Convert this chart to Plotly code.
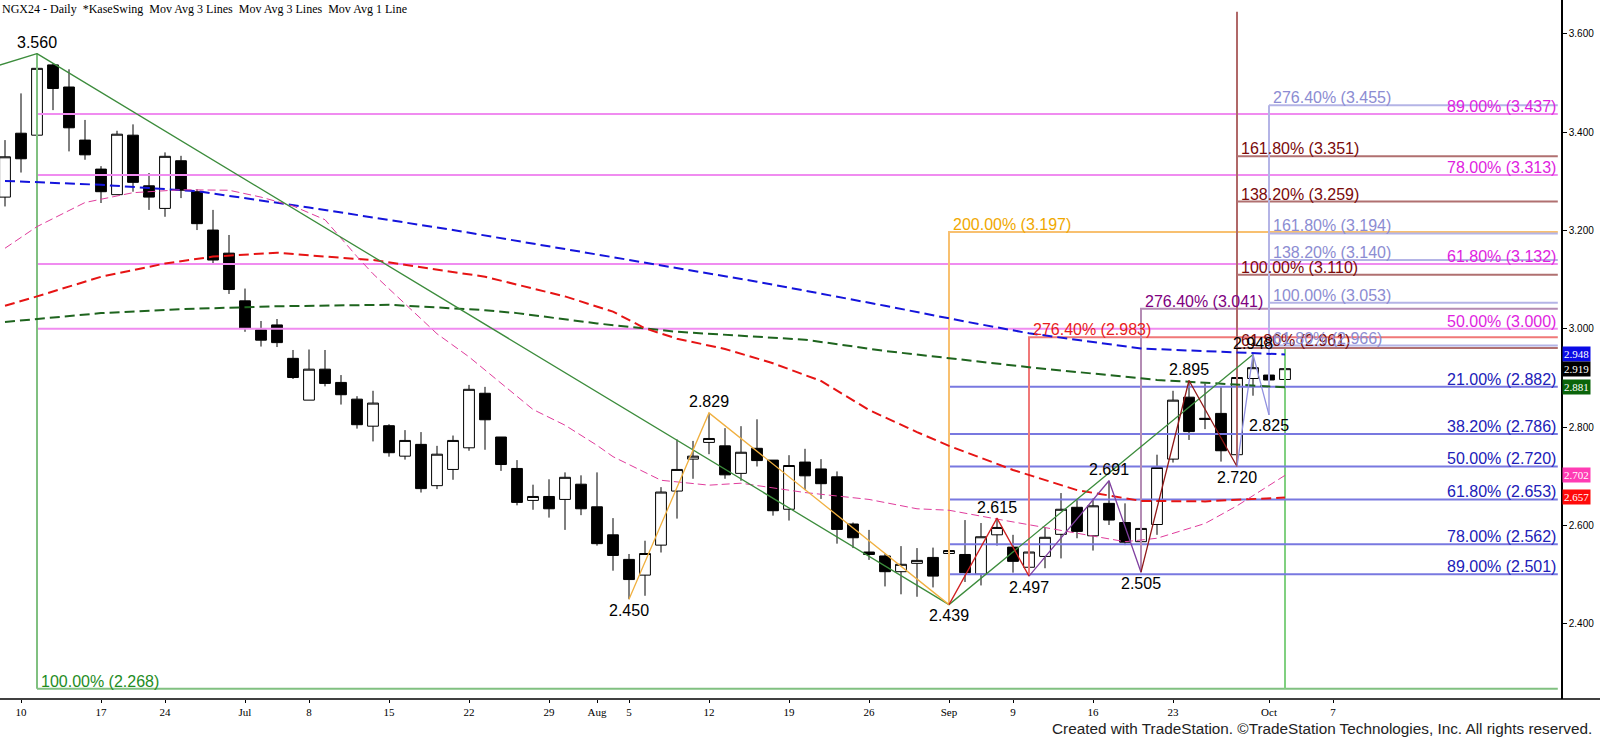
import pandas as pd
import plotly.graph_objects as go

# NGX24 daily bars, 7 Jun 2024 - 2 Oct 2024 (holidays left out like the chart does)
holidays = ['2024-06-19', '2024-07-04', '2024-09-02']
days = [d for d in pd.bdate_range('2024-06-07', '2024-10-08') if d.strftime('%Y-%m-%d') not in holidays]
n_bars = 81
pos = {d.strftime('%Y-%m-%d'): i for i, d in enumerate(days)}

opens = [3.268, 3.398, 3.394, 3.537, 3.492, 3.384, 3.325, 3.273, 3.394, 3.291,
         3.245, 3.342, 3.279, 3.201, 3.154, 3.057, 2.998, 3.008, 2.940, 2.855,
         2.918, 2.891, 2.857, 2.802, 2.803, 2.741, 2.765, 2.681, 2.714, 2.758,
         2.869, 2.780, 2.716, 2.651, 2.659, 2.653, 2.684, 2.638, 2.581, 2.531,
         2.499, 2.560, 2.670, 2.735, 2.769, 2.762, 2.706, 2.757, 2.733, 2.633,
         2.729, 2.715, 2.699, 2.603, 2.546, 2.538, 2.506, 2.523, 2.535, 2.543,
         2.541, 2.501, 2.581, 2.556, 2.515, 2.537, 2.582, 2.637, 2.579, 2.645,
         2.606, 2.567, 2.602, 2.735, 2.861, 2.818, 2.828, 2.744, 2.899, 2.906,
         2.897]
highs = [3.384, 3.479, 3.560, 3.540, 3.528, 3.425, 3.331, 3.403, 3.416, 3.317,
         3.359, 3.352, 3.284, 3.242, 3.191, 3.082, 3.016, 3.020, 2.957, 2.958,
         2.957, 2.906, 2.863, 2.874, 2.806, 2.794, 2.790, 2.762, 2.783, 2.886,
         2.882, 2.780, 2.733, 2.683, 2.694, 2.708, 2.702, 2.708, 2.615, 2.542,
         2.569, 2.678, 2.775, 2.772, 2.829, 2.798, 2.802, 2.816, 2.733, 2.743,
         2.756, 2.735, 2.710, 2.606, 2.591, 2.543, 2.558, 2.554, 2.555, 2.572,
         2.611, 2.605, 2.615, 2.581, 2.546, 2.596, 2.666, 2.652, 2.655, 2.691,
         2.645, 2.601, 2.744, 2.874, 2.895, 2.889, 2.883, 2.933, 2.948, 2.940,
         2.940]
lows = [3.249, 3.318, 3.388, 3.445, 3.361, 3.344, 3.256, 3.273, 3.279, 3.242,
        3.228, 3.266, 3.201, 3.133, 3.071, 2.994, 2.964, 2.963, 2.898, 2.855,
        2.883, 2.846, 2.797, 2.771, 2.740, 2.734, 2.667, 2.674, 2.693, 2.752,
        2.754, 2.711, 2.641, 2.632, 2.616, 2.591, 2.621, 2.559, 2.508, 2.450,
        2.457, 2.545, 2.614, 2.695, 2.745, 2.695, 2.691, 2.720, 2.620, 2.610,
        2.672, 2.654, 2.563, 2.554, 2.530, 2.476, 2.460, 2.455, 2.474, 2.439,
        2.485, 2.478, 2.559, 2.504, 2.497, 2.513, 2.533, 2.574, 2.549, 2.601,
        2.560, 2.505, 2.581, 2.728, 2.774, 2.796, 2.730, 2.720, 2.864, 2.825,
        2.868]
closes = [3.350, 3.346, 3.530, 3.489, 3.409, 3.354, 3.279, 3.396, 3.298, 3.268,
          3.351, 3.282, 3.214, 3.140, 3.080, 3.001, 2.977, 2.972, 2.901, 2.918,
          2.889, 2.866, 2.805, 2.849, 2.748, 2.773, 2.675, 2.745, 2.773, 2.877,
          2.815, 2.724, 2.647, 2.659, 2.634, 2.698, 2.634, 2.563, 2.539, 2.490,
          2.543, 2.668, 2.714, 2.741, 2.777, 2.703, 2.749, 2.732, 2.630, 2.722,
          2.701, 2.685, 2.592, 2.575, 2.541, 2.506, 2.521, 2.529, 2.497, 2.549,
          2.504, 2.577, 2.596, 2.527, 2.546, 2.576, 2.633, 2.588, 2.640, 2.611,
          2.566, 2.594, 2.718, 2.855, 2.791, 2.816, 2.752, 2.901, 2.921, 2.896,
          2.919]

# moving averages, read at a few bars
ma_blue_x = [0, 6, 12, 19, 28, 38, 47, 55, 60, 64, 71, 80]
ma_blue = [3.301, 3.293, 3.280, 3.247, 3.201, 3.145, 3.096, 3.047, 3.015, 2.991, 2.960, 2.948]
ma_dkgreen_x = [0, 2, 6, 11, 17, 24, 30, 32, 37, 42, 50, 55, 64, 72, 80]
ma_dkgreen = [3.014, 3.020, 3.032, 3.040, 3.046, 3.049, 3.038, 3.032, 3.011, 2.994, 2.978, 2.955, 2.922, 2.896, 2.881]
ma_red_x = [0, 2, 6, 10, 13, 17, 20, 23, 30, 35, 38, 40, 42, 45, 48, 51, 54, 57, 59, 63, 67, 71, 75, 80]
ma_red = [3.047, 3.066, 3.106, 3.133, 3.147, 3.155, 3.147, 3.140, 3.106, 3.066, 3.035, 3.001, 2.980, 2.959,
          2.930, 2.894, 2.835, 2.790, 2.762, 2.713, 2.672, 2.650, 2.649, 2.657]
ma_pink_x = [0, 2, 5, 8, 11, 14, 16, 18, 20, 22, 23, 25, 27, 29, 31, 33, 35, 37, 38, 41, 44, 46, 50,
             54, 57, 59, 62, 66, 70, 72, 75, 77, 80]
ma_pink = [3.164, 3.208, 3.257, 3.277, 3.283, 3.282, 3.268, 3.250, 3.222, 3.147, 3.112, 3.050, 2.990,
           2.943, 2.890, 2.836, 2.804, 2.763, 2.740, 2.692, 2.682, 2.686, 2.667, 2.653, 2.634, 2.631,
           2.613, 2.590, 2.567, 2.574, 2.604, 2.640, 2.702]

# swing points
swing_x = ['2024-06-11', '2024-08-05', '2024-08-12', '2024-09-03', '2024-09-06', '2024-09-10',
           '2024-09-17', '2024-09-19', '2024-09-24', '2024-09-27', '2024-09-30', '2024-10-01']
swing_y = [3.560, 2.450, 2.829, 2.439, 2.615, 2.497, 2.691, 2.505, 2.895, 2.720, 2.948, 2.825]
swing_up = [True, False, True, False, True, False, True, False, True, False, True, False]

# fib levels
mag_lv = [3.437, 3.313, 3.132, 3.000]
mag_pct = ['89.00%', '78.00%', '61.80%', '50.00%']
blue_lv = [2.882, 2.786, 2.720, 2.653, 2.562, 2.501]
blue_pct = ['21.00%', '38.20%', '50.00%', '61.80%', '78.00%', '89.00%']
maroon_lv = [2.961, 3.110, 3.259, 3.351]
maroon_pct = ['61.80%', '100.00%', '138.20%', '161.80%']
lav_lv = [2.966, 3.053, 3.140, 3.194, 3.455]
lav_pct = ['61.80%', '100.00%', '138.20%', '161.80%', '276.40%']

xticks = ['2024-06-10', '2024-06-17', '2024-06-24', '2024-07-01', '2024-07-08', '2024-07-15',
          '2024-07-22', '2024-07-29', '2024-08-01', '2024-08-05', '2024-08-12', '2024-08-19',
          '2024-08-26', '2024-09-03', '2024-09-09', '2024-09-16', '2024-09-23', '2024-10-01',
          '2024-10-07']
xtick_text = ['10', '17', '24', 'Jul', '8', '15', '22', '29', 'Aug', '5', '12', '19', '26',
              'Sep', '9', '16', '23', 'Oct', '7']

right_vals = [2.948, 2.919, 2.881, 2.702, 2.657]
right_cols = ['#0a0ae6', '#000000', '#0a640a', '#ff3cb4', '#ff0a0a']

X0, X1 = -0.3125, 97.25
XEND = 97.05
Y0, Y1 = 2.247, 3.669
SANS = 'Liberation Sans, Arial, sans-serif'
SERIF = 'Liberation Serif, Times New Roman, serif'

fig = go.Figure()
fig.add_trace(go.Candlestick(
    x=list(range(n_bars)), open=opens, high=highs, low=lows, close=closes,
    increasing=dict(line=dict(color='black', width=1), fillcolor='white'),
    decreasing=dict(line=dict(color='black', width=1), fillcolor='black'),
    whiskerwidth=0, showlegend=False, hoverinfo='skip'))


def seg(xs, ys, color, width=2, dash='solid'):
    fig.add_trace(go.Scatter(x=xs, y=ys, mode='lines', showlegend=False, hoverinfo='skip',
                             line=dict(color=color, width=width, dash=dash)))


def lab(x, y, text, color, anchor='left'):
    fig.add_annotation(x=x, y=y, text=text, showarrow=False, xanchor=anchor, yanchor='bottom',
                       xshift=2 if anchor == 'left' else 0, yshift=-3,
                       font=dict(family=SANS, size=16, color=color))


b_hi = pos['2024-06-11']
b_lo = pos['2024-09-03']

# magenta retracement of 3.560 -> 2.439
for lv, p in zip(mag_lv, mag_pct):
    seg([b_hi, XEND], [lv, lv], '#f08cf0')
    lab(XEND, lv, f'{p} ({lv:.3f})', '#e01ee0', 'right')

# green 100% projection
seg([b_hi, b_hi], [3.560, 2.268], '#80c080')
seg([b_hi, XEND], [2.268, 2.268], '#80c080')
lab(b_hi, 2.268, '100.00% (2.268)', '#1e8c1e')
seg([80, 80], [2.960, 2.268], '#80d080')

# blue retracements
for lv, p in zip(blue_lv, blue_pct):
    seg([b_lo, XEND], [lv, lv], '#7878e0')
    lab(XEND, lv, f'{p} ({lv:.3f})', '#2020b8', 'right')

# orange 200%
seg([b_lo, b_lo, XEND], [2.439, 3.197, 3.197], '#f8c070')
lab(b_lo, 3.197, '200.00% (3.197)', '#f0a800')

# red 276.4%
b = pos['2024-09-10']
seg([b, b, XEND], [2.497, 2.983, 2.983], '#f07878')
lab(b, 2.983, '276.40% (2.983)', '#e81c1c')

# purple 276.4%
b = pos['2024-09-19']
seg([b, b, XEND], [2.505, 3.041, 3.041], '#b48cb4')
lab(b, 3.041, '276.40% (3.041)', '#800080')

# maroon projections
b = pos['2024-09-27']
seg([b, b], [2.720, 3.645], '#b06868')
for lv, p in zip(maroon_lv, maroon_pct):
    seg([b, XEND], [lv, lv], '#b07070')
    lab(b, lv, f'{p} ({lv:.3f})', '#7a0a0a')

# lavender projections
b = pos['2024-10-01']
seg([b, b], [2.825, 3.455], '#b4b4e6')
for lv, p in zip(lav_lv, lav_pct):
    seg([b, XEND], [lv, lv], '#b4b4e6')
    lab(b, lv, f'{p} ({lv:.3f})', '#8c8cd2')

# moving averages
seg(ma_blue_x, ma_blue, '#1414dc', 2, '10px,5px')
seg(ma_dkgreen_x, ma_dkgreen, '#1e641e', 2, '10px,5px')
seg(ma_red_x, ma_red, '#e61414', 2, '10px,5px')
seg(ma_pink_x, ma_pink, '#e03c9c', 1, '8px,4px')

# swing zigzags
sw = {d: v for d, v in zip(swing_x, swing_y)}
def zz(keys, color):
    seg([pos[k] for k in keys], [sw[k] for k in keys], color, 1.3)

seg([-1, b_hi], [3.530, 3.560], '#3c8c3c', 1.3)
zz(['2024-06-11', '2024-09-03', '2024-09-30'], '#3c8c3c')
zz(['2024-08-05', '2024-08-12', '2024-09-03'], '#f0b040')
zz(['2024-09-03', '2024-09-06', '2024-09-10'], '#d02020')
zz(['2024-09-10', '2024-09-17', '2024-09-19'], '#8040a0')
zz(['2024-09-19', '2024-09-24', '2024-09-27'], '#901818')
zz(['2024-09-27', '2024-09-30', '2024-10-01'], '#9090e0')

for d, v, up in zip(swing_x, swing_y, swing_up):
    fig.add_annotation(x=pos[d], y=v, text=f'{v:.3f}', showarrow=False, yanchor='middle',
                       yshift=11 if up else -11, font=dict(family=SANS, size=16, color='black'))

for v, c in zip(right_vals, right_cols):
    fig.add_annotation(xref='paper', x=1, y=v, text=f'{v:.3f}', showarrow=False, xanchor='left',
                       xshift=1, bgcolor=c, borderpad=1,
                       font=dict(family=SERIF, size=11, color='white'))

fig.add_annotation(xref='paper', yref='paper', x=0, y=1, xanchor='left', yanchor='top',
                   text='NGX24 - Daily\u00a0\u00a0*KaseSwing\u00a0\u00a0Mov Avg 3 Lines\u00a0\u00a0Mov Avg 3 Lines\u00a0\u00a0Mov Avg 1 Line',
                   showarrow=False, font=dict(family=SERIF, size=12, color='black'))
fig.add_annotation(xref='paper', yref='paper', x=1.0237, y=-0.0572, xanchor='right', yanchor='bottom',
                   xshift=-4,
                   text='Created with TradeStation. \u00a9TradeStation Technologies, Inc. All rights reserved.',
                   showarrow=False,
                   font=dict(family='Liberation Sans Narrow, Arial Narrow, Liberation Sans', size=15.3, color='#222222'))

# bottom rule runs under the price scale too
fig.add_shape(type='line', xref='paper', yref='paper', x0=0, x1=1.03, y0=0, y1=0,
              line=dict(color='black', width=1.5))

fig.update_layout(
    width=1600, height=739, margin=dict(l=0, r=39, t=0, b=40),
    paper_bgcolor='white', plot_bgcolor='white', showlegend=False,
    boxgap=0.1, boxgroupgap=0.25,
    xaxis=dict(range=[X0, X1], rangeslider_visible=False, showgrid=False, zeroline=False,
               tickmode='array', tickvals=[pos[d] for d in xticks], ticktext=xtick_text,
               ticks='outside', ticklen=3, tickcolor='black',
               tickfont=dict(family=SERIF, size=11, color='black'), showline=False),
    yaxis=dict(range=[Y0, Y1], side='right', showgrid=False, zeroline=False,
               tickvals=[2.4, 2.6, 2.8, 3.0, 3.2, 3.4, 3.6], tickformat='.3f',
               ticks='outside', ticklen=4, tickcolor='black', showline=True, linecolor='black',
               linewidth=1.5, tickfont=dict(family=SANS, size=10, color='black')),
)

fig.write_html('out.html', config={'displayModeBar': False},
               post_script="document.body.style.margin='0px';")
